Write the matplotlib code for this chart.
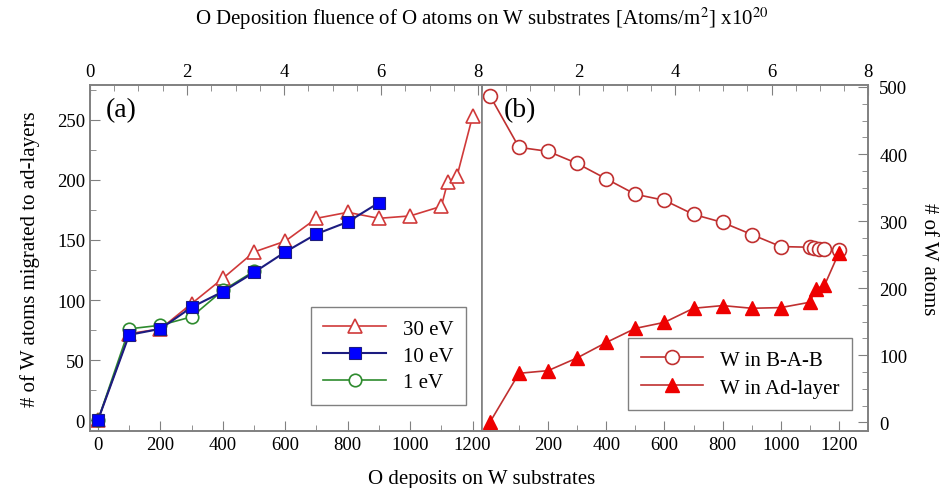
import matplotlib
matplotlib.use("Agg")
import matplotlib.pyplot as plt
from matplotlib.ticker import MultipleLocator

plt.rcParams['font.family'] = ['Liberation Serif', 'DejaVu Serif']
plt.rcParams['mathtext.fontset'] = 'stix'

# panel (a): W atoms migrated to ad-layers
x30 = [0, 100, 200, 300, 400, 500, 600, 700, 800, 900, 1000, 1100, 1120, 1150, 1200]
y30 = [0, 72, 76, 97, 118, 140, 149, 168, 173, 168, 170, 178, 198, 203, 253]
x10 = [0, 100, 200, 300, 400, 500, 600, 700, 800, 900]
y10 = [0, 71, 76, 94, 107, 123, 140, 155, 165, 181]
x1 = [0, 100, 200, 300, 400, 500]
y1 = [0, 76, 79, 86, 108, 124]

# panel (b): W atoms in B-A-B and ad-layer (30 eV)
x_bab = [0, 100, 200, 300, 400, 500, 600, 700, 800, 900, 1000, 1100, 1115, 1130, 1150, 1200]
y_bab = [487, 410, 404, 386, 363, 340, 331, 310, 298, 280, 262, 261, 260, 258, 258, 257]
x_ad = [0, 100, 200, 300, 400, 500, 600, 700, 800, 900, 1000, 1100, 1120, 1150, 1200]
y_ad = [0, 73, 77, 96, 119, 140, 149, 170, 174, 170, 171, 179, 199, 204, 253]

spine_c = '#808080'

fig = plt.figure(figsize=(9.45, 4.89), dpi=100)
axa = fig.add_axes([0.0952, 0.1166, 0.4148, 0.7076])
axb = fig.add_axes([0.5101, 0.1166, 0.4085, 0.7076])


def style(ax):
    for s in ax.spines.values():
        s.set_color(spine_c)
        s.set_linewidth(1.2)
    ax.tick_params(which='both', direction='in', color=spine_c, labelsize=13.5)
    ax.tick_params(which='major', length=7)
    ax.tick_params(which='minor', length=4)


# ---- panel (a)
axa.plot(x30, y30, '-^', color='#d03a3a', lw=1.2, ms=10, mfc='white', mec='#d03a3a', mew=1.2, label='30 eV', zorder=3)
axa.plot(x1, y1, '-o', color='#2e8b2e', lw=1.2, ms=9, mfc='white', mec='#2e8b2e', mew=1.2, label='1 eV', zorder=4)
axa.plot(x10, y10, '-s', color='#1c1c80', lw=1.5, ms=8, mfc='#0000ff', mec='#1c1c80', mew=0.8, label='10 eV', zorder=5)
axa.set_xlim(-25.6, 1230)
axa.set_ylim(-9, 279)
axa.xaxis.set_major_locator(MultipleLocator(200))
axa.xaxis.set_minor_locator(MultipleLocator(100))
axa.yaxis.set_major_locator(MultipleLocator(50))
axa.yaxis.set_minor_locator(MultipleLocator(25))
style(axa)
axa.tick_params(which='both', right=False)
axa.set_ylabel('# of W atoms migrated to ad-layers', fontsize=15, labelpad=12)
axa.text(0.04, 0.965, '(a)', transform=axa.transAxes, fontsize=20, va='top')
h, l = axa.get_legend_handles_labels()
order = [0, 2, 1]
leg = axa.legend([h[i] for i in order], [l[i] for i in order], loc='lower right',
                 bbox_to_anchor=(0.985, 0.045), fontsize=15, handlelength=3,
                 fancybox=False, framealpha=1, borderpad=0.6, labelspacing=0.35)
leg.get_frame().set_edgecolor(spine_c)

ta = axa.twiny()
ta.set_xlim(0, 8.08)
ta.xaxis.set_major_locator(MultipleLocator(2))
ta.xaxis.set_minor_locator(MultipleLocator(0.5))
style(ta)

# ---- panel (b)
axb.plot(x_bab, y_bab, '-o', color='#c03030', lw=1.2, ms=10, mfc='white', mec='#c03030', mew=1.2, label='W in B-A-B')
axb.plot(x_ad, y_ad, '-^', color='#c03030', lw=1.2, ms=10, mfc='#ee0000', mec='#ee0000', label='W in Ad-layer')
axb.set_xlim(-27, 1300)
axb.set_ylim(-13, 503)
axb.xaxis.set_major_locator(MultipleLocator(200))
axb.xaxis.set_minor_locator(MultipleLocator(100))
axb.yaxis.set_major_locator(MultipleLocator(100))
axb.yaxis.set_minor_locator(MultipleLocator(25))
style(axb)
axb.spines['left'].set_visible(False)
axb.tick_params(which='both', left=False, labelleft=False, right=True, labelright=True)
axb.tick_params(axis='y', pad=8)
axb.set_xticks([200, 400, 600, 800, 1000, 1200])
axb.yaxis.set_label_position('right')
axb.set_ylabel('# of W atoms', fontsize=15, rotation=270, labelpad=22)
axb.text(0.055, 0.965, '(b)', transform=axb.transAxes, fontsize=20, va='top')
leg = axb.legend(loc='lower right', bbox_to_anchor=(0.985, 0.03), fontsize=15, handlelength=3,
                 fancybox=False, framealpha=1, borderpad=0.6, labelspacing=0.4)
leg.get_frame().set_edgecolor(spine_c)

tb = axb.twiny()
tb.set_xlim(0, 8)
tb.set_xticks([2, 4, 6, 8])
tb.xaxis.set_minor_locator(MultipleLocator(0.5))
style(tb)
tb.spines['left'].set_visible(False)

fig.text(0.51, 0.01, 'O deposits on W substrates', ha='center', fontsize=15)
fig.text(0.51, 0.95, r'O Deposition fluence of O atoms on W substrates [Atoms/m$^2$] x10$^{20}$',
         ha='center', fontsize=15)

fig.savefig('out.png', dpi=100)
